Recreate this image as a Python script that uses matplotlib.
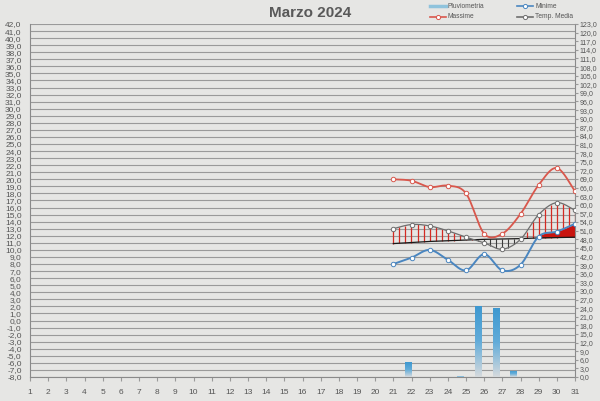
# -*- coding: utf-8 -*-
import numpy as np
import matplotlib
matplotlib.use('Agg')

import matplotlib.pyplot as plt
from matplotlib.lines import Line2D
from matplotlib.colors import LinearSegmentedColormap


# giorni con dati (21-31 marzo)
DAYS = list(range(21, 32))
MASSIME = [20.0, 19.8, 18.9, 19.1, 18.0, 12.3, 12.3, 15.1, 19.2, 21.6, 18.3]
MINIME = [8.0, 8.9, 10.0, 8.6, 7.1, 9.4, 7.1, 7.9, 11.9, 12.6, 13.7]
MEDIA = [13.0, 13.6, 13.4, 12.7, 11.8, 11.0, 10.1, 11.5, 15.0, 16.7, 15.6]
NORMALE = [10.9, 11.05, 11.2, 11.3, 11.4, 11.5, 11.55, 11.6, 11.7, 11.75, 11.8]

RAIN_DAYS = [22, 25, 26, 27, 28]
RAIN = [5.2, 0.3, 24.8, 24.2, 2.2]

X_TICKS = list(range(1, 32))
LEFT_TICKS = list(range(-8, 43))
RIGHT_TICKS = list(range(0, 124, 3))

FONT = 'Liberation Sans'
TXT = '#555555'
GRID = '#9a9a9a'
RED = '#d9574c'
BLUE = '#4a86c0'
GRAY = '#6e6e6e'
HATCH_UP = '#d42a22'
HATCH_DOWN = '#3a3a3a'


def fmt(v):
    return '{:.1f}'.format(v).replace('.', ',')


def smooth(xs, ys, n=30):
    # curva tipo Excel (Bezier / Catmull-Rom)
    p = np.column_stack([xs, ys]).astype(float)
    out = []
    for i in range(len(p) - 1):
        p0 = p[i - 1] if i > 0 else p[i]
        p1 = p[i]
        p2 = p[i + 1]
        p3 = p[i + 2] if i + 2 < len(p) else p[i + 1]
        c1 = p1 + (p2 - p0) / 6.0
        c2 = p2 - (p3 - p1) / 6.0
        t = np.linspace(0, 1, n, endpoint=(i == len(p) - 2))[:, None]
        seg = ((1 - t) ** 3) * p1 + 3 * ((1 - t) ** 2) * t * c1 + 3 * (1 - t) * t ** 2 * c2 + t ** 3 * p2
        out.append(seg)
    out = np.vstack(out)
    return out[:, 0], out[:, 1]


def legend_item(fig, x0, y, label, color, marker=True, lw=1.2):
    W, H = 600.0, 401.0
    fig.add_artist(Line2D([x0 / W, (x0 + 16) / W], [1 - y / H, 1 - y / H],
                          transform=fig.transFigure, color=color, lw=lw))
    if marker:
        fig.add_artist(Line2D([(x0 + 8) / W], [1 - y / H], transform=fig.transFigure,
                              marker='o', ms=3, mfc='white', mec=color, mew=0.7, lw=0))
    fig.text((x0 + 18) / W, 1 - y / H, label, fontsize=4.8, color=TXT,
             family=FONT, va='center', ha='left')


def main():
    fig = plt.figure(figsize=(6.0, 4.01), dpi=100, facecolor='#e6e6e4')
    pos = [30 / 600.0, 1 - 377 / 401.0, 545 / 600.0, 353 / 401.0]
    ax = fig.add_axes(pos)
    ax.patch.set_alpha(0)
    ax.set_axisbelow(True)

    ax.set_xlim(1, 31)
    ax.set_ylim(-8, 42)
    ax.set_yticks(LEFT_TICKS)
    ax.set_yticklabels([fmt(v) for v in LEFT_TICKS], family=FONT, fontsize=6, color=TXT)
    ax.set_xticks(X_TICKS)
    ax.set_xticklabels([str(v) for v in X_TICKS], family=FONT, fontsize=6, color=TXT)
    ax.yaxis.grid(True, color=GRID, lw=0.8)
    ax.tick_params(axis='y', length=0, pad=6)
    ax.tick_params(axis='x', length=3, pad=6, color=GRID)
    for s in ['left', 'bottom', 'right']:
        ax.spines[s].set_color('#8a8a8a')
        ax.spines[s].set_linewidth(0.8)
    ax.spines['top'].set_visible(False)

    # linea di riferimento e tratteggio verticale tra media e riferimento
    xs_m, ys_m = smooth(DAYS, MEDIA)
    ax.plot(DAYS, NORMALE, color='#1a1a1a', lw=0.9, zorder=3)
    xh = np.arange(DAYS[0], DAYS[-1] + 0.01, 1.0 / 3)
    yh = np.interp(xh, xs_m, ys_m)
    nh = np.interp(xh, np.array(DAYS, float), np.array(NORMALE, float))
    up = yh >= nh
    down = ~up
    ax.vlines(xh[up], nh[up], yh[up], colors=HATCH_UP, lw=0.9, zorder=2)
    ax.vlines(xh[down], yh[down], nh[down], colors=HATCH_DOWN, lw=0.8, zorder=2)

    # minime sopra la linea di riferimento
    xs_b, ys_b = smooth(DAYS, MINIME)
    nb = np.interp(xs_b, DAYS, NORMALE)
    ax.fill_between(xs_b, nb, ys_b, where=ys_b > nb, interpolate=True,
                    color='#c8140f', lw=0, zorder=2.5)

    xs_r, ys_r = smooth(DAYS, MASSIME)
    ax.plot(xs_r, ys_r, color=RED, lw=1.3, zorder=4)
    ax.plot(DAYS, MASSIME, 'o', ms=3.2, mfc='white', mec=RED, mew=0.7, zorder=5)
    ax.plot(xs_b, ys_b, color=BLUE, lw=1.4, zorder=4)
    ax.plot(DAYS, MINIME, 'o', ms=3.2, mfc='white', mec=BLUE, mew=0.7, zorder=5)
    ax.plot(xs_m, ys_m, color=GRAY, lw=0.9, zorder=4)
    ax.plot(DAYS, MEDIA, 'o', ms=3.2, mfc='white', mec=GRAY, mew=0.7, zorder=5)

    # pluviometria sull'asse secondario
    ax2 = fig.add_axes(pos, frameon=False)
    ax2.patch.set_alpha(0)
    bars = ax2.bar(RAIN_DAYS, RAIN, width=0.38, color='none', lw=0)
    cmap = LinearSegmentedColormap.from_list(
        'rain', [(0, '#3d98d0'), (0.5, '#62acd9'), (1, '#d6dadd')])
    grad = np.linspace(0, 1, 256).reshape(-1, 1)
    for b in bars:
        x0, w, h = b.get_x(), b.get_width(), b.get_height()
        im = ax2.imshow(grad, extent=(x0, x0 + w, 0, h), aspect='auto',
                        cmap=cmap, origin='upper', zorder=2)
        im.set_clip_path(b)
    ax2.set_xlim(0.5, 31.5)
    ax2.set_ylim(0, 123)
    ax2.xaxis.set_visible(False)
    ax2.yaxis.tick_right()
    ax2.set_yticks(RIGHT_TICKS)
    ax2.set_yticklabels([fmt(v) for v in RIGHT_TICKS], family=FONT, fontsize=5, color=TXT)
    ax2.tick_params(axis='y', length=2, pad=1.5, color=GRID)

    fig.text(310 / 600.0, 1 - 13 / 401.0, 'Marzo 2024', ha='center', va='center',
             fontsize=11, fontweight='bold', color='#595959', family=FONT)

    legend_item(fig, 430, 6, 'Pluviometria', '#8fc3dc', marker=False, lw=2.5)
    legend_item(fig, 517, 6, 'Minime', BLUE)
    legend_item(fig, 430, 17, 'Massime', RED)
    legend_item(fig, 517, 17, 'Temp. Media', GRAY)

    fig.savefig('out.png', dpi=100, facecolor=fig.get_facecolor())


if __name__ == '__main__':
    main()
